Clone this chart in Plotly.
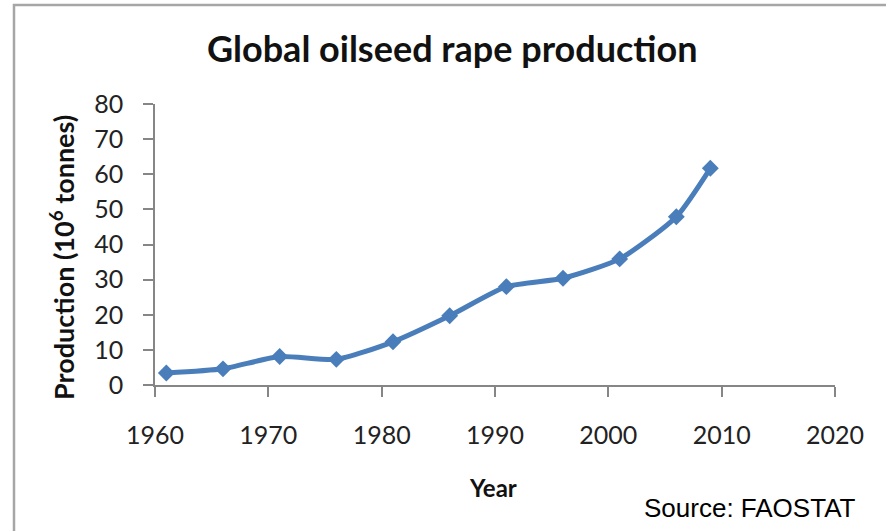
import plotly.graph_objects as go

# Global oilseed rape production, million tonnes
years = [1961, 1966, 1971, 1976, 1981, 1986, 1991, 1996, 2001, 2006, 2009]
production = [3.4, 4.6, 8.1, 7.3, 12.3, 19.7, 28.0, 30.4, 35.9, 47.9, 61.7]

x_ticks = [1960, 1970, 1980, 1990, 2000, 2010, 2020]
y_ticks = [0, 10, 20, 30, 40, 50, 60, 70, 80]

W, H = 886, 531
L, R, T, B = 155, 51, 104, 146
pw, ph = W - L - R, H - T - B


def px_to_paper(px, py):
    return (px - L) / pw, (H - B - py) / ph


BLUE = "#4A7EBB"
AXIS = "#868686"
FONT = "Lato"

fig = go.Figure()
fig.add_trace(go.Scatter(
    x=years, y=production,
    mode="lines+markers",
    line=dict(color=BLUE, width=5, shape="spline", smoothing=0.6),
    marker=dict(symbol="diamond", size=13, color=BLUE),
    showlegend=False,
    hoverinfo="x+y",
))

fig.update_xaxes(
    range=[1960, 2020], tickvals=x_ticks, ticktext=[str(v) for v in x_ticks],
    showline=True, linecolor=AXIS, linewidth=1.5,
    ticks="outside", ticklen=10, tickcolor=AXIS, tickwidth=1.5,
    showgrid=False, zeroline=False,
    tickfont=dict(family=FONT, size=25, color="#222"),
    ticklabelstandoff=17,
)
fig.update_yaxes(
    range=[0, 80], tickvals=y_ticks, ticktext=[str(v) for v in y_ticks],
    showline=True, linecolor=AXIS, linewidth=1.5,
    ticks="outside", ticklen=10, tickcolor=AXIS, tickwidth=1.5,
    showgrid=False, zeroline=False,
    tickfont=dict(family=FONT, size=25, color="#222"),
    ticklabelstandoff=15,
)

# chart border (top and left edges visible)
x0, y0 = px_to_paper(14, 5)
x1, y1 = px_to_paper(W + 20, H + 20)
fig.add_shape(type="rect", xref="paper", yref="paper",
              x0=x0, y0=y1, x1=x1, y1=y0,
              line=dict(color="#A6A6A6", width=2.5), fillcolor="rgba(0,0,0,0)")

tx, ty = px_to_paper(452, 48)
fig.add_annotation(text="<b>Global oilseed rape production</b>", x=tx, y=ty,
                   xref="paper", yref="paper", showarrow=False,
                   xanchor="center", yanchor="middle",
                   font=dict(family=FONT, size=36, color="#111"))

ax_, ay_ = px_to_paper(62, 257)
fig.add_annotation(text="<b>Production (10<sup>6</sup> tonnes)</b>", x=ax_, y=ay_,
                   xref="paper", yref="paper", showarrow=False, textangle=-90,
                   xanchor="center", yanchor="middle",
                   font=dict(family=FONT, size=27, color="#111"))

yx, yy = px_to_paper(493, 487)
fig.add_annotation(text="<b>Year</b>", x=yx, y=yy,
                   xref="paper", yref="paper", showarrow=False,
                   xanchor="center", yanchor="middle",
                   font=dict(family=FONT, size=24, color="#111"))

sx, sy = px_to_paper(858, 508)
fig.add_annotation(text="Source: FAOSTAT", x=sx, y=sy,
                   xref="paper", yref="paper", showarrow=False,
                   xanchor="right", yanchor="middle",
                   font=dict(family="Liberation Sans", size=26, color="#000"))

fig.update_layout(
    width=W, height=H,
    margin=dict(l=L, r=R, t=T, b=B, pad=0),
    paper_bgcolor="white", plot_bgcolor="white",
)

fig.write_html("out.html")
